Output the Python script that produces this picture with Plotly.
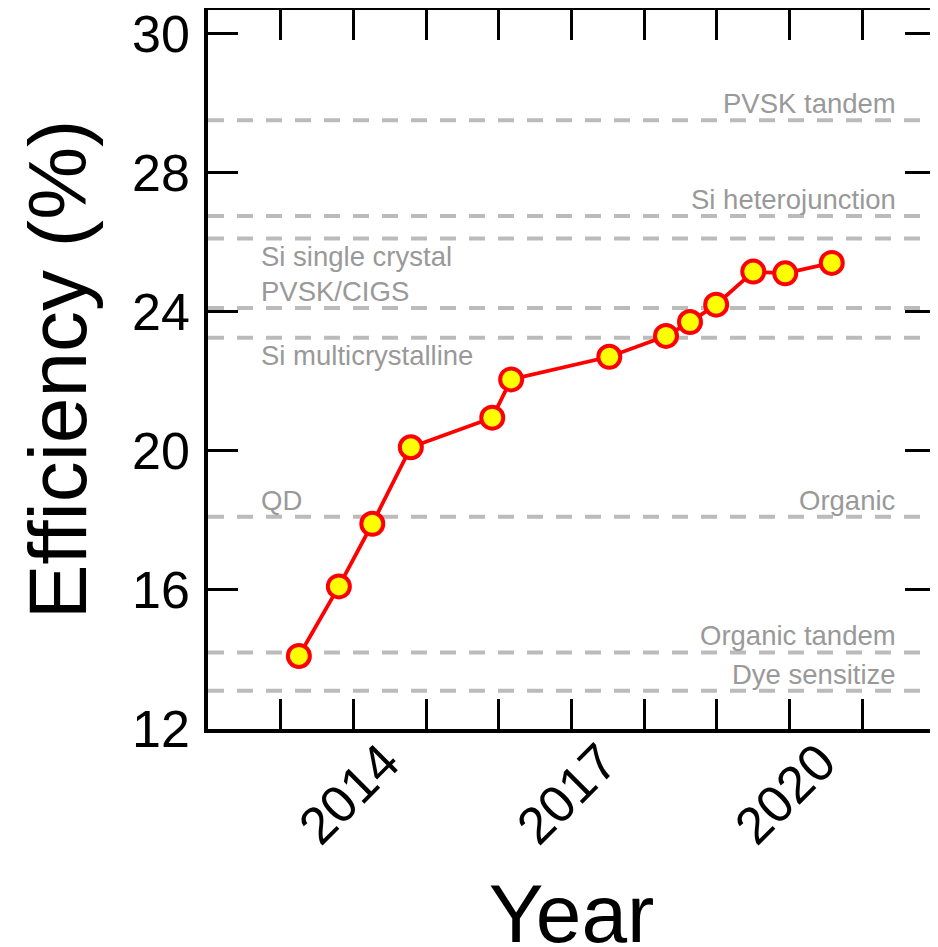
import plotly.graph_objects as go

# Record efficiency data (year, %)
years = [2012.25, 2012.80, 2013.26, 2013.79, 2014.91, 2015.17, 2016.52,
         2017.30, 2017.63, 2017.99, 2018.50, 2018.94, 2019.58]
efficiency = [14.1, 16.1, 17.9, 20.1, 20.95, 22.05, 22.7,
              23.3, 23.7, 24.2, 25.15, 25.1, 25.4]

# Reference technologies (dashed lines)
ref_values = [29.5, 26.75, 26.1, 24.1, 23.25, 18.1, 14.2, 13.1]

# Labels for reference lines
label_texts = ["PVSK tandem", "Si heterojunction", "Si single crystal", "PVSK/CIGS",
               "Si multicrystalline", "QD", "Organic", "Organic tandem", "Dye sensitize"]
label_values = [29.5, 26.75, 26.1, 24.1, 23.25, 18.1, 18.1, 14.2, 13.1]
label_sides = ["right", "right", "left", "left", "left", "left", "right", "right", "right"]
label_above = [True, True, False, True, False, True, True, True, True]

# Axis ticks
x_tick_years = [2012, 2013, 2014, 2015, 2016, 2017, 2018, 2019, 2020]
x_tick_labels = ["", "", "2014", "", "", "2017", "", "", "2020"]
y_tick_values = [12, 16, 20, 24, 28, 32]
y_tick_labels = ["12", "16", "20", "24", "28", "30"]

FONT = "Liberation Sans, Arial, Helvetica, sans-serif"
GRAY_LINE = "#bbbbbb"
GRAY_TEXT = "#999999"

fig = go.Figure()

shapes = []
for v in ref_values:
    shapes.append(dict(type="line", xref="paper", x0=0, x1=1, yref="y", y0=v, y1=v,
                       line=dict(color=GRAY_LINE, width=4, dash="16px,13px"), layer="below"))

fig.add_trace(go.Scatter(
    x=years, y=efficiency, mode="lines+markers",
    line=dict(color="#ff0000", width=3.8),
    marker=dict(size=22, color="#ffff00", line=dict(color="#ff0000", width=4)),
    showlegend=False, cliponaxis=False,
))

annotations = []
for t, v, side, above in zip(label_texts, label_values, label_sides, label_above):
    annotations.append(dict(
        x=0.07 if side == "left" else 0.949, xref="paper",
        y=v, yref="y", text=t, showarrow=False,
        xanchor="left" if side == "left" else "right",
        yanchor="bottom" if above else "top",
        yshift=-1 if above else 0,
        font=dict(family=FONT, size=27.5, color=GRAY_TEXT),
    ))

# The page body adds an 8px offset, so the figure is sized/positioned for the window
fig.update_layout(
    width=930, height=951,
    margin=dict(l=200, r=3, t=2, b=230),
    paper_bgcolor="white", plot_bgcolor="white",
    shapes=shapes, annotations=annotations,
    font=dict(family=FONT, color="black"),
)

fig.update_xaxes(
    range=[2011, 2021], tickmode="array", tickvals=x_tick_years, ticktext=x_tick_labels,
    ticks="inside", ticklen=30, tickwidth=3, tickcolor="black",
    showline=True, linewidth=3.5, linecolor="black", mirror="allticks",
    showgrid=False, zeroline=False, tickangle=-45, automargin=False,
    tickfont=dict(family=FONT, size=52, color="black"), ticklabelstandoff=-22,
    ticklabelshift=-42, ticklabeloverflow="allow",
    title=dict(text="Year", font=dict(family=FONT, size=82, color="black"), standoff=37),
)
fig.update_yaxes(
    range=[12, 32.67], tickmode="array", tickvals=y_tick_values, ticktext=y_tick_labels,
    ticks="inside", ticklen=30, tickwidth=3, tickcolor="black",
    showline=True, linewidth=3.5, linecolor="black", mirror="allticks",
    showgrid=False, zeroline=False, automargin=False,
    tickfont=dict(family=FONT, size=52, color="black"), ticklabelstandoff=4,
    ticklabeloverflow="allow",
    title=dict(text="Efficiency (%)", font=dict(family=FONT, size=82, color="black"), standoff=19),
)

fig.write_html("out.html")
